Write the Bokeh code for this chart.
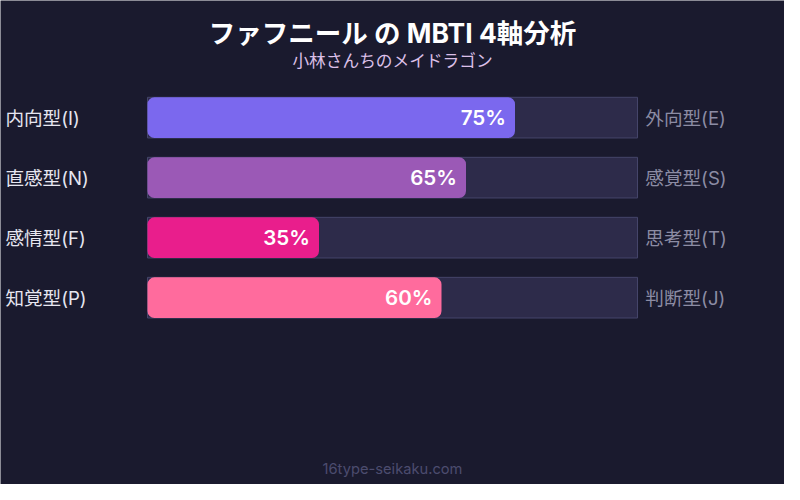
from bokeh.plotting import figure
from bokeh.models import Range1d, ColumnDataSource
from bokeh.core.properties import value
from bokeh.embed import file_html
from bokeh.resources import INLINE

# ---- data ----
title_text = "ファフニール の MBTI 4軸分析"
subtitle_text = "小林さんちのメイドラゴン"
footer_text = "16type-seikaku.com"
left_labels = ["内向型(I)", "直感型(N)", "感情型(F)", "知覚型(P)"]
right_labels = ["外向型(E)", "感覚型(S)", "思考型(T)", "判断型(J)"]
percents = [75, 65, 35, 60]
colors = ["#7b68ee", "#9b59b6", "#e91e8c", "#ff6b9d"]

BG = "#1a1a2e"
FONT = "Inter, 'Noto Sans CJK JP', sans-serif"
FONT_SEMI = "'Inter SemiBold', 'Inter Semi Bold', Inter, 'Noto Sans CJK JP', sans-serif"

# layout mapping (reference canvas 800x500 drawn into a 784x484 figure)
PX_PER_PCT = 5.0
X0 = 150.0
ROW0 = 121.0
ROW_H = 62.0
W, H = 784, 484
S = W / 800.0
def px_x(px):
    return (px - X0) / PX_PER_PCT
def px_y(py):
    return (py - ROW0) / ROW_H
def fs(n):
    return "%.1fpx" % (n * S)

p = figure(width=W, height=H, output_backend="svg", toolbar_location=None,
           x_range=Range1d(px_x(0), px_x(800)),
           y_range=Range1d(px_y(500), px_y(0)),
           min_border=0, background_fill_color=BG, border_fill_color=BG,
           outline_line_color=None)
p.axis.visible = False
p.grid.visible = False

rows = list(range(len(percents)))
src = ColumnDataSource(dict(
    y=rows, pct=percents, color=colors, left=left_labels, right=right_labels,
    label=[f"{v}%" for v in percents], full=[100] * len(rows),
))

bar_h = 42 / ROW_H
p.hbar(y="y", left=0, right="full", height=bar_h, source=src,
       fill_color="#2d2b4a", line_color="#45456a", line_width=1)
p.hbar(y="y", left=0, right="pct", height=bar_h, source=src,
       fill_color="color", line_color=None, border_radius=7)

p.text(x=px_x(5), y="y", text="left", source=src, text_font=value(FONT),
       text_font_size=fs(19), text_color="#e6e6f0", text_baseline="middle",
       text_align="left")
p.text(x=px_x(658), y="y", text="right", source=src, text_font=value(FONT),
       text_font_size=fs(19), text_color="#8c8ca4", text_baseline="middle",
       text_align="left")
p.text(x="pct", y="y", text="label", source=src, x_offset=-9,
       text_font=value(FONT_SEMI), text_font_size=fs(21),
       text_color="#ffffff", text_baseline="middle", text_align="right")

p.text(x=[px_x(400)], y=[px_y(34)], text=[title_text], text_font=value(FONT),
       text_font_size=fs(27), text_font_style="bold", text_color="#ffffff",
       text_baseline="middle", text_align="center")
p.text(x=[px_x(400)], y=[px_y(63)], text=[subtitle_text], text_font=value(FONT),
       text_font_size=fs(17), text_color="#dcc0e8",
       text_baseline="middle", text_align="center")
p.text(x=[px_x(400)], y=[px_y(484)], text=[footer_text], text_font=value(FONT),
       text_font_size=fs(15), text_color="#4c4c6e",
       text_baseline="middle", text_align="center")

html = file_html(p, INLINE)
html = html.replace("<body>", '<body style="background:%s">' % BG, 1)
open("out.html", "w").write(html)
